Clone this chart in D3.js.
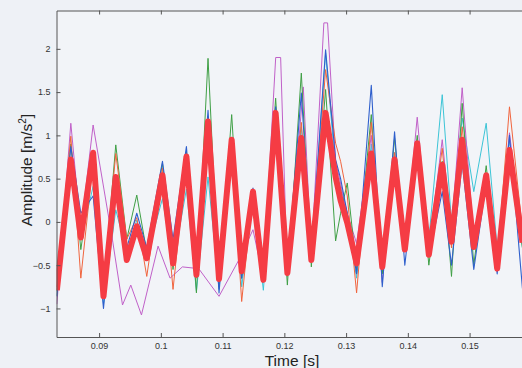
<!DOCTYPE html>
<html>
<head>
<meta charset="utf-8">
<script src="https://cdn.jsdelivr.net/npm/d3@7"></script>
<style>
  html, body { margin: 0; padding: 0; background: #eef1f6; }
  svg { display: block; }
  .tick text { font-family: "Liberation Sans", Arial, sans-serif; font-size: 9px; fill: #333; }
</style>
</head>
<body>
<div id="chart"></div>
<script>
// shared sample times (s) at the extremes of the averaged signal
const time = [0.08316, 0.08542, 0.08704, 0.08903, 0.09071, 0.0927, 0.09448, 0.0961, 0.09772, 0.10026,
  0.10197, 0.10414, 0.10576, 0.10764, 0.10942, 0.11147, 0.11309, 0.11492, 0.1166, 0.11859,
  0.12049, 0.12275, 0.12437, 0.12668, 0.1283, 0.12911, 0.13019, 0.1317, 0.13408, 0.13586,
  0.13785, 0.13951, 0.14152, 0.1434, 0.14557, 0.14707, 0.1488, 0.15068, 0.15269, 0.15447,
  0.15646, 0.15856];

const blue = [-0.86, 0.87, 0.1, 0.3, -1.0, 0.53, -0.3, 0.1, -0.3, 0.7,
  -0.2, 0.87, -0.6, 1.29, -0.82, 0.95, -0.65, 0.39, -0.6, 1.33,
  -0.55, 1.49, -0.35, 1.99, 0.72, 0.5, 0.1, -0.6, 1.58, -0.75,
  1.04, -0.5, 0.8, -0.4, 0.35, -0.5, 0.68, -0.55, 0.45, -0.6,
  1.0, -0.77];

const green = [-0.8, 0.9, -0.32, 0.65, -0.8, 0.89, -0.2, 0.31, -0.35, 0.68,
  -0.55, 0.81, -0.82, 1.89, -0.75, 1.24, -0.65, 0.3, -0.6, 1.43,
  -0.73, 1.72, -0.52, 1.53, -0.22, 0.1, 0.45, -0.55, 1.24, -0.6,
  0.97, -0.3, 1.0, -0.5, 0.7, -0.63, 1.37, -0.5, 0.65, -0.5,
  0.85, -0.3];

const orange = [-0.75, 0.99, -0.65, 0.7, -0.75, 0.79, -0.2, 0.05, -0.63, 0.62,
  -0.78, 0.7, -0.65, 0.99, -0.7, 0.9, -0.92, 0.35, -0.65, 1.2,
  -0.6, 1.15, -0.4, 1.76, 0.91, 0.7, 0.3, -0.82, 1.15, -0.55,
  0.8, -0.25, 0.9, -0.3, 0.85, -0.3, 1.1, -0.3, 0.55, -0.45,
  1.33, -0.1];

const cyan = [-0.85, 0.52, -0.2, 0.41, -0.95, 0.14, -0.35, 0.02, -0.4, 0.27,
  -0.5, 0.38, -0.8, 0.52, -0.78, 0.8, -0.75, 0.3, -0.79, 1.0,
  -0.6, 1.1, -0.4, 1.95, 0.6, 0.4, 0.1, -0.65, 0.9, -0.5,
  0.8, -0.3, 0.95, -0.2, 1.47, 0.0, 1.2, 0.35, 1.14, -0.3,
  0.95, -0.3];

// magenta drifts away from the others, so it keeps its own times
const magentaTime = [0.08316, 0.08542, 0.08704, 0.08903, 0.09217, 0.09379, 0.09513, 0.09686, 0.09955, 0.10149,
  0.10349, 0.10613, 0.10942, 0.11293, 0.11492, 0.1166, 0.1186, 0.1194, 0.12049, 0.12307,
  0.12437, 0.1264, 0.1270, 0.1283, 0.13019, 0.1317, 0.13408, 0.13586, 0.13785, 0.13951,
  0.14152, 0.1434, 0.14557, 0.14707, 0.1488, 0.15068, 0.15269, 0.15447, 0.15646, 0.15856];
const magenta = [-0.95, 1.14, -0.1, 1.12, -0.21, -0.96, -0.73, -1.075, -0.28, -0.65,
  -0.52, -0.54, -0.86, -0.4, -0.09, -0.65, 1.9, 1.9, -0.63, 1.56,
  -0.4, 2.3, 2.3, 0.7, 0.1, -0.25, 1.0, -0.7, 0.8, -0.3,
  1.21, -0.3, 0.95, -0.1, 1.55, -0.2, 0.5, -0.4, 1.03, -0.2];

const mean = [-0.79, 0.72, -0.18, 0.8, -0.86, 0.52, -0.44, -0.05, -0.42, 0.54,
  -0.48, 0.755, -0.61, 1.16, -0.66, 0.95, -0.57, 0.35, -0.67, 1.26,
  -0.59, 0.97, -0.44, 1.26, 0.52, 0.25, -0.01, -0.48, 0.79, -0.52,
  0.72, -0.32, 0.91, -0.38, 0.66, -0.23, 0.95, -0.29, 0.54, -0.54,
  0.83, -0.24];

const xTicks = [0.09, 0.1, 0.11, 0.12, 0.13, 0.14, 0.15];
const yTicks = [-1, -0.5, 0, 0.5, 1, 1.5, 2];

const W = 522, H = 368;
const margin = { top: 10.5, right: -1, bottom: 31, left: 56.5 };
const plotW = W - margin.left - margin.right;
const plotH = H - margin.top - margin.bottom;

const svg = d3.select('#chart').append('svg')
  .attr('width', W)
  .attr('height', H);

svg.append('rect').attr('width', W).attr('height', H).attr('fill', '#eef1f6');

const g = svg.append('g')
  .attr('transform', `translate(${margin.left},${margin.top})`);

const x = d3.scaleLinear().domain([0.0831, 0.15865]).range([0, plotW]);
const y = d3.scaleLinear().domain([-1.33, 2.443]).range([plotH, 0]);

g.append('rect')
  .attr('width', plotW).attr('height', plotH)
  .attr('fill', '#f2f4f8');

g.append('defs').append('clipPath').attr('id', 'clip')
  .append('rect').attr('width', plotW).attr('height', plotH);

const line = d3.line()
  .x(d => x(d[0]))
  .y(d => y(d[1]));

const series = [
  { t: time, v: cyan, color: '#3cc4d6', w: 1 },
  { t: magentaTime, v: magenta, color: '#c060c8', w: 1 },
  { t: time, v: green, color: '#3f9f45', w: 1 },
  { t: time, v: orange, color: '#f0643e', w: 1 },
  { t: time, v: blue, color: '#2f5fcc', w: 1.1 },
  { t: time, v: mean, color: '#f53c44', w: 6 }
];

const lines = g.append('g').attr('clip-path', 'url(#clip)');
series.forEach(s => {
  lines.append('path')
    .datum(s.t.map((t, i) => [t, s.v[i]]))
    .attr('fill', 'none')
    .attr('stroke', s.color)
    .attr('stroke-width', s.w)
    .attr('stroke-linejoin', 'round')
    .attr('d', line);
});

// axes, MATLAB style with ticks pointing inward
g.append('g')
  .attr('transform', `translate(0,${plotH})`)
  .call(d3.axisBottom(x).tickValues(xTicks).tickSizeInner(-4).tickSizeOuter(0).tickPadding(6)
    .tickFormat(d => d3.format('~g')(d)));

g.append('g')
  .call(d3.axisTop(x).tickValues(xTicks).tickSizeInner(-4).tickSizeOuter(0).tickFormat(''));

g.append('g')
  .call(d3.axisLeft(y).tickValues(yTicks).tickSizeInner(-4).tickSizeOuter(0).tickPadding(6)
    .tickFormat(d => d3.format('~g')(d)));

g.selectAll('.domain').attr('stroke', '#555').attr('stroke-width', 1);
g.selectAll('.tick line').attr('stroke', '#555');

svg.append('text')
  .attr('x', 292).attr('y', 366)
  .attr('text-anchor', 'middle')
  .attr('font-family', '"Liberation Sans", Arial, sans-serif')
  .attr('font-size', 15.5)
  .attr('fill', '#222')
  .text('Time [s]');

const yl = svg.append('text')
  .attr('transform', 'translate(32,170) rotate(-90)')
  .attr('text-anchor', 'middle')
  .attr('font-family', '"Liberation Sans", Arial, sans-serif')
  .attr('font-size', 15.5)
  .attr('fill', '#222');
yl.append('tspan').text('Amplitude [m/s');
yl.append('tspan').attr('font-size', 10).attr('dy', -6).text('2');
yl.append('tspan').attr('dy', 6).text(']');
</script>
</body>
</html>
